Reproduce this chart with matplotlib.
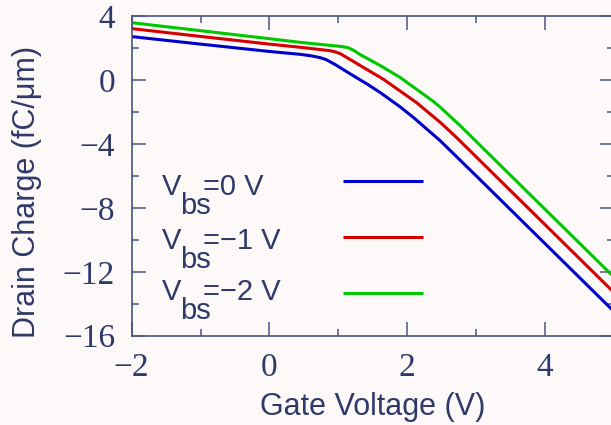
import matplotlib
matplotlib.use("Agg")
import matplotlib.pyplot as plt
from matplotlib.ticker import MultipleLocator

# ---- data ----
vg_bs0 = [-2.0, -1.0, 0.0, 0.45, 0.62, 0.74, 0.82, 0.88, 0.96, 1.12, 1.42, 1.61, 1.9, 2.09, 2.48, 3.06, 3.93, 5.0]
qd_bs0 = [2.71, 2.24, 1.78, 1.60, 1.50, 1.39, 1.28, 1.14, 0.95, 0.52, -0.26, -0.79, -1.69, -2.34, -3.80, -6.24, -9.93, -14.47]

vg_bs1 = [-2.0, -1.0, 0.0, 0.45, 0.88, 0.96, 1.03, 1.125, 1.37, 1.66, 2.14, 2.48, 2.72, 4.2, 5.0]
qd_bs1 = [3.21, 2.72, 2.24, 2.04, 1.83, 1.75, 1.64, 1.40, 0.77, 0.03, -1.43, -2.65, -3.61, -9.89, -13.28]

vg_bs2 = [-2.0, -1.0, 0.0, 0.45, 0.88, 1.05, 1.14, 1.22, 1.32, 1.61, 1.9, 2.38, 2.48, 2.77, 4.42, 5.0]
qd_bs2 = [3.58, 3.08, 2.58, 2.35, 2.16, 2.09, 2.02, 1.86, 1.58, 0.90, 0.15, -1.34, -1.70, -2.86, -9.86, -12.32]

series_labels = ["=0 V", "=\u22121 V", "=\u22122 V"]
series_colors = ["#0000cc", "#d40000", "#00c800"]

x_ticks = [-2, 0, 2, 4]
x_ticklabels = ["\u22122", "0", "2", "4"]
y_ticks = [4, 0, -4, -8, -12, -16]
y_ticklabels = ["4", "0", "\u22124", "\u22128", "\u221212", "\u221216"]

# ---- style ----
BG = "#fdf9f8"
TXT = "#2f3a6b"
AX = "#4a5584"

fig = plt.figure(figsize=(6.11, 4.25), dpi=100, facecolor=BG)
ax = fig.add_axes([0.2155, 0.2101, 0.7889, 0.7523], facecolor=BG)

lines = []
for xs, ys, c in zip([vg_bs0, vg_bs1, vg_bs2], [qd_bs0, qd_bs1, qd_bs2], series_colors):
    ln, = ax.plot(xs, ys, color=c, lw=2.2, solid_joinstyle="round", solid_capstyle="butt")
    lines.append(ln)

ax.set_xlim(-2, 5)
ax.set_ylim(-16, 4)
ax.set_xticks(x_ticks)
ax.set_xticklabels(x_ticklabels)
ax.set_yticks(y_ticks)
ax.set_yticklabels(y_ticklabels)
ax.xaxis.set_minor_locator(MultipleLocator(1))
ax.yaxis.set_minor_locator(MultipleLocator(2))

for s in ax.spines.values():
    s.set_color(AX)
    s.set_linewidth(1.2)

ax.tick_params(which="both", direction="in", top=True, right=True, color=AX, width=1.1)
ax.tick_params(which="major", length=10)
ax.tick_params(which="minor", length=5)
ax.tick_params(axis="y", which="major", pad=12)
ax.tick_params(axis="x", which="major", pad=12)
for lab in ax.get_xticklabels() + ax.get_yticklabels():
    lab.set_fontfamily("Liberation Serif")
    lab.set_fontsize(24)
    lab.set_color(TXT)

ax.set_xlabel("Gate Voltage (V)", fontfamily="Liberation Sans", fontsize=22, color=TXT)
ax.set_ylabel("Drain Charge (fC/\u03bcm)", fontfamily="Liberation Sans", fontsize=22, color=TXT)
ax.xaxis.set_label_coords(0.5, -0.175)
ax.yaxis.set_label_coords(-0.186, 0.451)

# legend: sample lines via legend, composite labels drawn as text
leg = ax.legend(lines, ["", "", ""], loc="upper left", bbox_to_anchor=(0.4384, 0.522),
                frameon=False, handlelength=2.88, handletextpad=0, borderpad=0,
                borderaxespad=0, labelspacing=1.0, fontsize=20)

fs = 21
row_y = [0.440, 0.270, 0.1117]
for y, lab in zip(row_y, series_labels):
    t1 = ax.text(0.0622, y, "V", transform=ax.transAxes, fontsize=fs,
                 fontfamily="Liberation Sans", color=TXT, va="baseline", ha="left")
    t2 = ax.annotate("bs", xy=(1, 0), xycoords=t1, xytext=(-1, -13.5),
                     textcoords="offset points", fontsize=fs, fontfamily="Liberation Sans",
                     color=TXT, va="bottom", ha="left")
    ax.annotate(lab, xy=(1, 0), xycoords=t2, xytext=(-5, 13.5),
                textcoords="offset points", fontsize=fs, fontfamily="Liberation Sans",
                color=TXT, va="bottom", ha="left")

fig.savefig("out.png", dpi=100, facecolor=BG)
